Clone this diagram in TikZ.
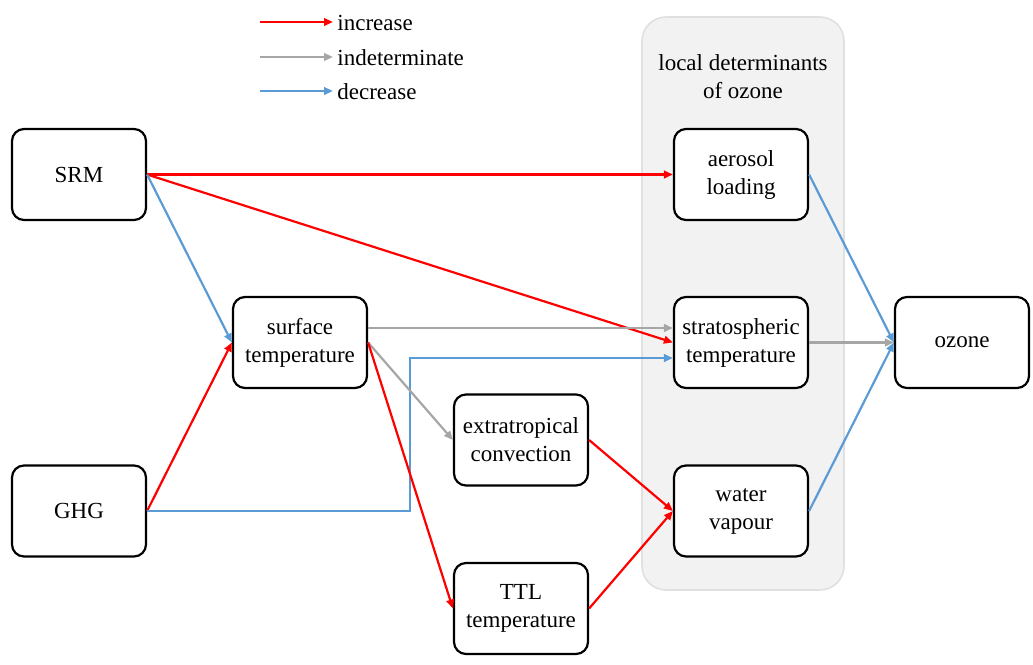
\documentclass[tikz,border=0pt]{standalone}
\usepackage{fontspec}
\setmainfont{LiberationSerif}[Extension=.ttf, UprightFont=*-Regular, BoldFont=*-Bold]
\usetikzlibrary{calc,arrows.meta}
\definecolor{incred}{HTML}{FF0000}
\definecolor{indgray}{HTML}{A6A6A6}
\definecolor{decblue}{HTML}{5B9BD5}
\definecolor{panelfill}{HTML}{F2F2F2}
\definecolor{paneldraw}{HTML}{E0E0E0}
\tikzset{
  box/.style={draw=black, line width=1.1pt, rounded corners=6pt, fill=white,
    minimum width=67pt, minimum height=45.5pt, align=center, inner sep=2pt,
    font=\fontsize{11.5}{14}\selectfont},
  txt/.style={black, align=center, inner sep=2pt, font=\fontsize{11.5}{14}\selectfont},
  inc/.style={-{Triangle[length=4.5pt,width=3.8pt]}, draw=incred, line width=1.1pt},
  ind/.style={-{Triangle[length=4.5pt,width=3.8pt]}, draw=indgray, line width=1.1pt},
  dec/.style={-{Triangle[length=4.5pt,width=3.8pt]}, draw=decblue, line width=1.1pt},
  panel/.style={fill=panelfill, draw=paneldraw, line width=0.8pt, rounded corners=12pt}
}
\begin{document}
\begin{tikzpicture}[x=0.5pt, y=-0.5pt]
  \useasboundingbox (0,0) rectangle (1033,664);
  % Panel of local determinants
  \draw[panel] (642,17) rectangle (844,590);
  \node[txt] (paneltitle) at (743,77) {local determinants\\of ozone};
  % Legend
  \coordinate (leg1) at (260,22);
  \coordinate (leg2) at (260,57);
  \coordinate (leg3) at (260,91);
  \node[txt, anchor=west] (legInc) at (333,23) {increase};
  \node[txt, anchor=west] (legInd) at (333,58) {indeterminate};
  \node[txt, anchor=west] (legDec) at (333,92) {decrease};
  \draw[inc] (leg1) -- (leg1 -| legInc.west);
  \draw[ind] (leg2) -- (leg2 -| legInd.west);
  \draw[dec] (leg3) -- (leg3 -| legDec.west);
  % Boxes
  \node[box] (srm) at (79,174.5) {SRM};
  \node[box] (ghg) at (79,511) {GHG};
  \node[box] (surftemp) at (300,342.5) {surface\\temperature};
  \node[box] (extconv) at (521,440) {extratropical\\convection};
  \node[box] (ttltemp) at (521,608.5) {TTL\\temperature};
  \node[box] (aerosol) at (741,174.5) {aerosol\\loading};
  \node[box] (strattemp) at (741,342.5) {stratospheric\\temperature};
  \node[box] (watvap) at (741,511) {water\\vapour};
  \node[box] (ozone) at (962,342.5) {ozone};
  % Links
  \coordinate (bendx) at (410,0);
  \draw[inc] (srm.east) -- (aerosol.west);
  \draw[inc] (srm.east) -- (strattemp.west);
  \draw[dec] (srm.east) -- (surftemp.west);
  \draw[inc] (ghg.east) -- (surftemp.west);
  \draw[dec] (ghg.east) -- (ghg.east -| bendx) |- ($(strattemp.west)+(0,15.5)$);
  \draw[ind] ($(surftemp.east)+(0,-14.5)$) -- ($(strattemp.west)+(0,-14.5)$);
  \draw[ind] (surftemp.east) -- (extconv.west);
  \draw[inc] (surftemp.east) -- (ttltemp.west);
  \draw[inc] (extconv.east) -- (watvap.west);
  \draw[inc] (ttltemp.east) -- (watvap.west);
  \draw[dec] (aerosol.east) -- (ozone.west);
  \draw[ind] (strattemp.east) -- (ozone.west);
  \draw[dec] (watvap.east) -- (ozone.west);
\end{tikzpicture}
\end{document}
